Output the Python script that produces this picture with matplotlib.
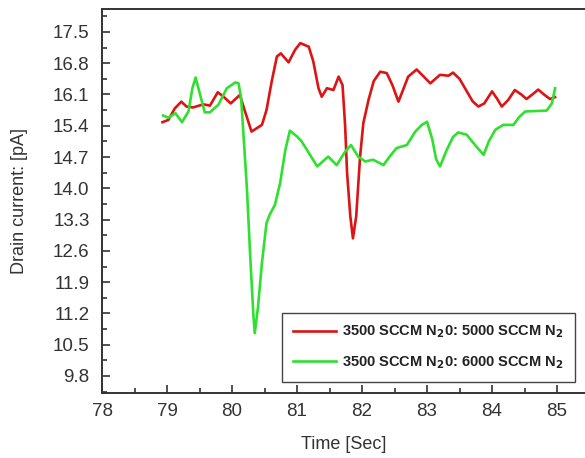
import matplotlib
matplotlib.use("Agg")
import matplotlib.pyplot as plt
from matplotlib.ticker import MultipleLocator

plt.rcParams['font.family'] = ['Liberation Sans', 'DejaVu Sans']

# red: 3500 SCCM N2O : 5000 SCCM N2
t_red = [78.93, 79.02, 79.12, 79.22, 79.3, 79.4, 79.56, 79.66, 79.78, 79.87,
         79.98, 80.12, 80.2, 80.3, 80.46, 80.53, 80.61, 80.69, 80.75, 80.87,
         80.97, 81.05, 81.18, 81.25, 81.33, 81.38, 81.46, 81.56, 81.64, 81.7,
         81.74, 81.77, 81.82, 81.86, 81.91, 81.97, 82.02, 82.1, 82.18, 82.28,
         82.38, 82.47, 82.56, 82.63, 82.71, 82.84, 82.95, 83.05, 83.2, 83.33,
         83.4, 83.5, 83.6, 83.7, 83.79, 83.88, 84.0, 84.08, 84.15, 84.25,
         84.35, 84.45, 84.53, 84.62, 84.71, 84.8, 84.89, 84.97]
v_red = [15.48, 15.53, 15.79, 15.94, 15.83, 15.81, 15.88, 15.85, 16.15, 16.05,
         15.9, 16.09, 15.72, 15.27, 15.42, 15.75, 16.39, 16.95, 17.02, 16.82,
         17.1, 17.25, 17.17, 16.84, 16.24, 16.05, 16.24, 16.2, 16.5, 16.31,
         15.4, 14.34, 13.37, 12.88, 13.37, 14.71, 15.46, 15.98, 16.4, 16.61,
         16.58, 16.3, 15.94, 16.2, 16.5, 16.66, 16.5, 16.35, 16.54, 16.52,
         16.59, 16.45, 16.2, 15.95, 15.83, 15.9, 16.17, 16.0, 15.83, 15.98,
         16.2, 16.1, 16.0, 16.1, 16.21, 16.1, 16.0, 16.04]

# green: 3500 SCCM N2O : 6000 SCCM N2
t_green = [78.94, 79.02, 79.13, 79.23, 79.33, 79.39, 79.44, 79.51, 79.58, 79.66,
           79.79, 79.92, 80.05, 80.1, 80.14, 80.23, 80.28, 80.33, 80.35, 80.4,
           80.46, 80.53, 80.58, 80.66, 80.74, 80.82, 80.89, 81.0, 81.07, 81.17,
           81.31, 81.48, 81.61, 81.74, 81.83, 81.94, 82.05, 82.17, 82.33, 82.43,
           82.53, 82.69, 82.82, 82.92, 83.0, 83.08, 83.14, 83.2, 83.3, 83.4,
           83.48, 83.61, 83.75, 83.87, 83.95, 84.05, 84.17, 84.33, 84.42, 84.51,
           84.84, 84.92, 84.97]
v_green = [15.63, 15.58, 15.68, 15.48, 15.72, 16.24, 16.48, 16.09, 15.7, 15.7,
           15.87, 16.24, 16.37, 16.35, 16.02, 13.97, 12.47, 11.13, 10.76, 11.35,
           12.33, 13.22, 13.41, 13.63, 14.12, 14.86, 15.29, 15.16, 15.05, 14.82,
           14.49, 14.71, 14.52, 14.82, 14.97, 14.71, 14.6, 14.64, 14.52, 14.72,
           14.9, 14.97, 15.27, 15.42, 15.49, 15.1, 14.65, 14.49, 14.85, 15.15,
           15.25, 15.2, 14.95, 14.75, 15.05, 15.31, 15.42, 15.42, 15.6, 15.72,
           15.74, 15.9, 16.24]

yticks = [9.8, 10.5, 11.2, 11.9, 12.6, 13.3, 14.0, 14.7, 15.4, 16.1, 16.8, 17.5]
xticks = [78, 79, 80, 81, 82, 83, 84, 85]

fig = plt.figure(figsize=(5.85, 4.58), dpi=100)
ax = fig.add_axes([0.1744, 0.142, 0.8256, 0.838])

ax.plot(t_red, v_red, color='#dc1414', lw=1.9, solid_joinstyle='round',
        label=r'3500 SCCM N$_\mathbf{2}$0: 5000 SCCM N$_\mathbf{2}$')
ax.plot(t_green, v_green, color='#2fe02f', lw=1.9, solid_joinstyle='round',
        label=r'3500 SCCM N$_\mathbf{2}$0: 6000 SCCM N$_\mathbf{2}$')

ax.set_xlim(78, 85.43)
ax.set_ylim(9.42, 18.01)
ax.set_xticks(xticks)
ax.set_yticks(yticks)
ax.set_yticklabels(['%.1f' % y for y in yticks])
ax.xaxis.set_minor_locator(MultipleLocator(0.5))
ax.yaxis.set_minor_locator(MultipleLocator(0.35))
ax.tick_params(which='both', direction='in', colors='#333333', labelsize=13.5,
               top=False, right=False)
ax.tick_params(which='major', length=6, width=1.2)
ax.tick_params(which='minor', length=3.5, width=1.2)
ax.tick_params(axis='x', pad=7)
ax.tick_params(axis='y', pad=9)

for s in ['left', 'bottom', 'top']:
    ax.spines[s].set_color('#333333')
    ax.spines[s].set_linewidth(1.4)
ax.spines['right'].set_visible(False)

ax.set_xlabel('Time [Sec]', fontsize=13, color='#333333', labelpad=12)
ax.set_ylabel('Drain current: [pA]', fontsize=13, color='#333333', labelpad=18)

leg = ax.legend(loc='lower right', bbox_to_anchor=(0.979, 0.029), fancybox=False,
                edgecolor='#444444', framealpha=1, handlelength=3.0,
                prop={'weight': 'bold', 'size': 10.5}, borderpad=0.75,
                labelspacing=0.95, handletextpad=0.4, borderaxespad=0)
leg.get_frame().set_linewidth(1.0)
for txt in leg.get_texts():
    txt.set_color('#222222')

fig.savefig('out.png', dpi=100)
